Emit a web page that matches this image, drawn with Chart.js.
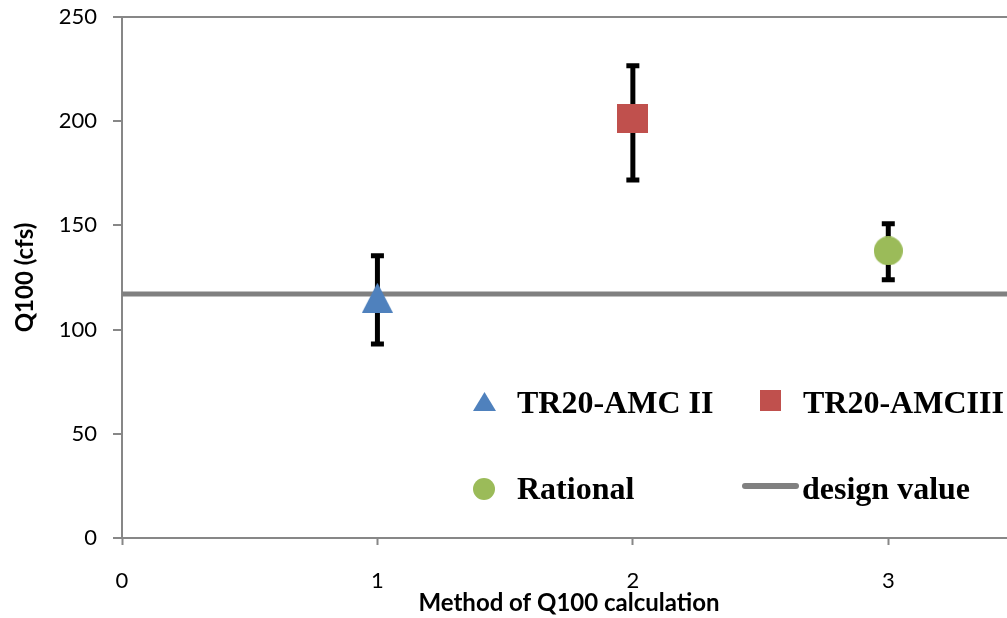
<!DOCTYPE html>
<html>
<head>
<meta charset="utf-8">
<script src="https://cdn.jsdelivr.net/npm/chart.js@4/dist/chart.umd.min.js"></script>
<style>
  html, body { margin: 0; padding: 0; overflow: hidden; background: #fff; width: 1007px; height: 618px; }
  #wrap { position: absolute; left: 0; top: 0; width: 1032px; height: 618px; }
  .lg { position: absolute; font-family: "Liberation Serif", "Times New Roman", serif; font-weight: bold; font-size: 32px; line-height: 32px; color: #000; white-space: nowrap; }
  .sym { position: absolute; }
</style>
</head>
<body>
<div id="wrap"><canvas id="c" width="1032" height="618"></canvas></div>
<svg class="sym" style="left:472px;top:391px" width="25" height="21"><polygon points="12.5,1 24,20 1,20" fill="#4F81BD"/></svg>
<div class="lg" style="left:517px;top:386px">TR20-AMC II</div>
<svg class="sym" style="left:760px;top:390px" width="21" height="21"><rect x="0" y="0" width="21" height="21" fill="#C0504D"/></svg>
<div class="lg" style="left:803px;top:386px">TR20-AMCIII</div>
<svg class="sym" style="left:473px;top:478px" width="22" height="22"><circle cx="11" cy="11" r="11" fill="#9BBB59"/></svg>
<div class="lg" style="left:517px;top:472px">Rational</div>
<svg class="sym" style="left:742px;top:482px" width="57" height="8"><line x1="3" y1="4" x2="54" y2="4" stroke="#808080" stroke-width="6" stroke-linecap="round"/></svg>
<div class="lg" style="left:802px;top:472px">design value</div>
<script>
// ---- data ----
const seriesNames = ['TR20-AMC II', 'TR20-AMCIII', 'Rational'];
const methods = [1, 2, 3];
const q100 = [115.3, 201.2, 137.8];
const errUpper = [135.4, 226.6, 150.8];
const errLower = [93.1, 171.8, 123.9];
const designLabel = 'design value';
const designValue = 117.1;
const designRange = [0, 3.5];
const xTicks = [0, 1, 2, 3];
const yTicks = [0, 50, 100, 150, 200, 250];

// ---- styles ----
const colors = ['#4F81BD', '#C0504D', '#9BBB59'];
const axisColor = '#878787';

function marker(shape, w, h, color) {
  const c = document.createElement('canvas');
  c.width = w; c.height = h;
  const g = c.getContext('2d');
  g.fillStyle = color;
  g.beginPath();
  if (shape === 'tri') { g.moveTo(w / 2, 0); g.lineTo(w, h); g.lineTo(0, h); g.closePath(); }
  else if (shape === 'rect') { g.rect(0, 0, w, h); }
  else { g.arc(w / 2, h / 2, w / 2, 0, Math.PI * 2); }
  g.fill();
  return c;
}
const markers = [marker('tri', 31, 30, colors[0]), marker('rect', 31, 29, colors[1]), marker('circ', 29, 29, colors[2])];

const datasets = seriesNames.map((name, i) => ({
  type: 'scatter',
  label: name,
  data: [{ x: methods[i], y: q100[i] }],
  pointStyle: markers[i],
  pointRadius: 15,
  backgroundColor: colors[i],
  borderColor: colors[i]
}));
datasets.push({
  type: 'line',
  label: designLabel,
  data: designRange.map(x => ({ x: x, y: designValue })),
  borderColor: '#808080',
  borderWidth: 5,
  pointRadius: 0,
  fill: false
});

const errorBars = {
  id: 'errorBars',
  afterDatasetDraw(chart, args) {
    if (args.index !== datasets.length - 1) return;
    const ctx = chart.ctx, xs = chart.scales.x, ys = chart.scales.y;
    ctx.save();
    ctx.strokeStyle = '#000';
    methods.forEach((m, i) => {
      const px = xs.getPixelForValue(m);
      const top = ys.getPixelForValue(errUpper[i]);
      const bot = ys.getPixelForValue(errLower[i]);
      ctx.lineWidth = 5;
      ctx.beginPath(); ctx.moveTo(px, top); ctx.lineTo(px, bot); ctx.stroke();
      ctx.beginPath();
      ctx.moveTo(px - 6.5, top); ctx.lineTo(px + 6.5, top);
      ctx.moveTo(px - 6.5, bot); ctx.lineTo(px + 6.5, bot);
      ctx.stroke();
    });
    ctx.restore();
  }
};

new Chart(document.getElementById('c'), {
  data: { datasets: datasets },
  options: {
    responsive: false,
    animation: false,
    layout: { padding: { top: 17, right: 4, left: 0, bottom: 0 } },
    plugins: { legend: { display: false }, tooltip: { enabled: false } },
    scales: {
      x: {
        type: 'linear', min: 0, max: 3.5,
        afterBuildTicks: s => { s.ticks = xTicks.map(v => ({ value: v })); },
        afterFit: s => { s.height = 80; s.paddingLeft = 0; s.paddingRight = 0; },
        ticks: { color: '#000', font: { family: 'Lato', size: 22 }, padding: 23 },
        grid: { drawOnChartArea: false, tickLength: 7, tickColor: axisColor, tickWidth: 2 },
        border: { color: axisColor, width: 2 },
        title: { display: true, text: 'Method of Q100 calculation', color: '#000', font: { family: 'Lato', size: 24, weight: 'bold' }, padding: { top: 0, bottom: 0 } }
      },
      y: {
        type: 'linear', min: 0, max: 250,
        afterBuildTicks: s => { s.ticks = yTicks.map(v => ({ value: v })); },
        afterFit: s => { s.width = 122; s.paddingTop = 0; s.paddingBottom = 0; },
        ticks: { color: '#000', font: { family: 'Lato', size: 22 }, padding: 16 },
        grid: {
          color: c => (c.tick && c.tick.value === 250) ? axisColor : 'rgba(0,0,0,0)',
          lineWidth: 2, tickLength: 9, tickColor: axisColor, tickWidth: 2
        },
        border: { color: axisColor, width: 2 },
        title: { display: true, text: 'Q100 (cfs)', color: '#000', font: { family: 'Lato', size: 24, weight: 'bold' }, padding: { top: 11, bottom: 0 } }
      }
    }
  },
  plugins: [errorBars]
});
</script>
</body>
</html>
